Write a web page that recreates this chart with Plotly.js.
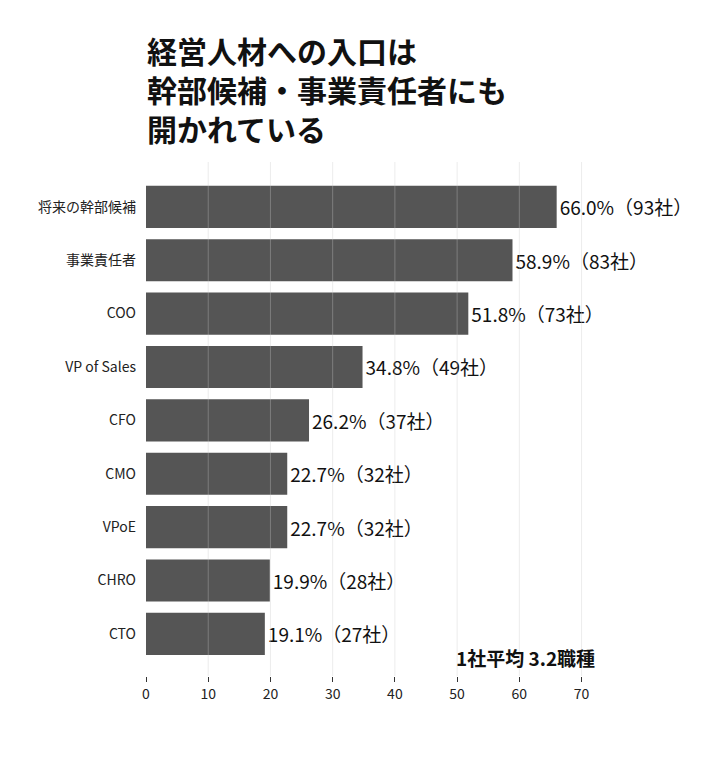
<!DOCTYPE html>
<html><head><meta charset="utf-8">
<script src="https://cdn.plot.ly/plotly-3.0.1.min.js"></script>
<style>body{margin:0;background:#fff}#c{width:720px;height:760px}</style>
</head><body><div id="c"></div>
<script>
const categories = ["将来の幹部候補","事業責任者","COO","VP of Sales","CFO","CMO","VPoE","CHRO","CTO"];
const percents = [66.0, 58.9, 51.8, 34.8, 26.2, 22.7, 22.7, 19.9, 19.1];
const companies = [93, 83, 73, 49, 37, 32, 32, 28, 27];
const xTicks = [0,10,20,30,40,50,60,70];
const titleLines = ["経営人材への入口は","幹部候補・事業責任者にも","開かれている"];
const noteText = "1社平均 3.2職種";

const FONT = '"Noto Sans CJK JP", "Noto Sans", sans-serif';
const W = 720, H = 760, ML = 146, MR = 126, MT = 162, MB = 84;
const plotW = W-ML-MR, plotH = H-MT-MB;
const px2x = px => (px-ML)/plotW;
const py2y = py => (H-MB-py)/plotH;

const labels = percents.map((p,i)=> p.toFixed(1) + "%（" + companies[i] + "社）");

const trace = {
  type:'bar', orientation:'h',
  x: percents, y: categories,
  marker:{color:'#555555'},
  width: 0.79,
  text: labels, textposition:'outside', cliponaxis:false,
  textfont:{size:19, color:'#111', family:FONT},
  hoverinfo:'skip'
};

const grid = xTicks.slice(1).map(v=>({
  type:'line', xref:'x', yref:'paper', x0:v, x1:v, y0:0, y1:1,
  line:{color:'rgba(200,200,200,0.35)', width:1}, layer:'above'
}));

const layout = {
  width:W, height:H,
  margin:{l:ML, r:MR, t:MT, b:MB},
  paper_bgcolor:'#fff', plot_bgcolor:'#fff',
  font:{family:FONT, color:'#222'},
  showlegend:false,
  title:{text:titleLines.join('<br>'), font:{size:30, family:FONT, color:'#111', weight:'bold'},
    xref:'container', x:147/W, xanchor:'left', yref:'container', y:1-63/H, yanchor:'middle'},
  xaxis:{range:[0,72], tickvals:xTicks, ticktext:xTicks.map(String),
    showgrid:false, zeroline:false, showline:false,
    ticks:'outside', ticklen:5, tickcolor:'#333', tickwidth:1,
    tickfont:{size:14, color:'#222', family:FONT}, fixedrange:true},
  yaxis:{type:'category', autorange:false, range:[8.79,-0.84],
    showgrid:false, zeroline:false, showline:false, ticks:'',
    ticklabelstandoff:9,
    tickfont:{size:14, color:'#222', family:FONT}},
  shapes: grid,
  annotations:[{text:'<b>'+noteText+'</b>', xref:'paper', yref:'paper',
    x:px2x(597), y:py2y(657), xanchor:'right', yanchor:'middle', showarrow:false,
    font:{size:19, color:'#111', family:FONT}}]
};

Plotly.newPlot('c',[trace],layout,{displayModeBar:false,staticPlot:true});
</script></body></html>
